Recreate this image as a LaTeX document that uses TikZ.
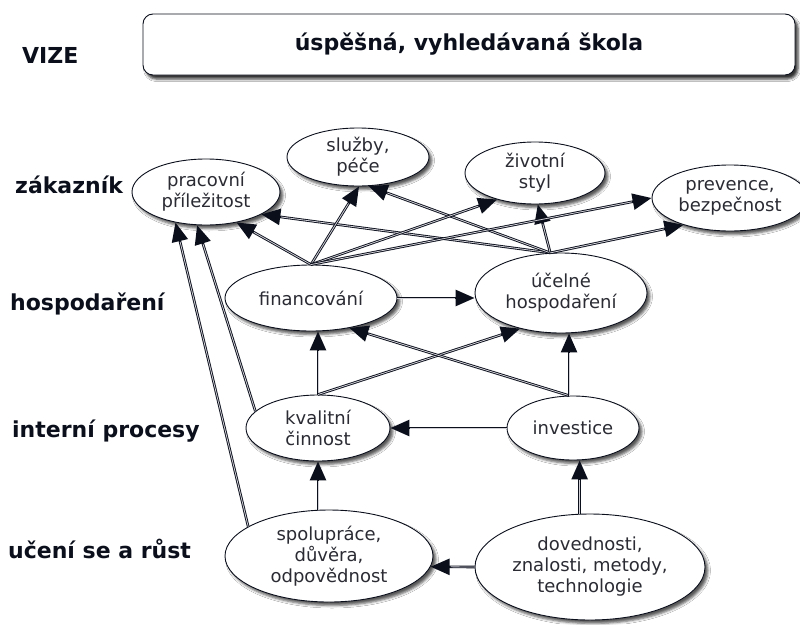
\documentclass[tikz,border=0pt]{standalone}
\usepackage{fontspec}
\setmainfont{DejaVu Sans}
\usetikzlibrary{shapes.geometric,arrows.meta,shadows.blur}
\definecolor{ink}{HTML}{0B0F1C}
\definecolor{txt}{HTML}{2A2B33}
\definecolor{core}{HTML}{D0D0D6}
\begin{document}
\begin{tikzpicture}[x=1pt,y=-1pt,
  goal/.style={ellipse, draw=ink, line width=0.9pt, fill=white, inner sep=0pt,
    align=center, text=txt, font=\fontsize{18}{21}\selectfont,
    blur shadow={shadow xshift=3pt, shadow yshift=-3.5pt,
      shadow blur radius=2.5pt, shadow opacity=65}},
  persp/.style={anchor=base west, inner sep=0pt, text=ink,
    font=\fontsize{22}{26}\selectfont\bfseries},
  link/.style={draw=ink, line width=2.6pt,
    -{Triangle[length=19pt,width=16pt]},
    postaction={draw=core, line width=0.8pt, -, shorten >=20pt}},
]
\fill[white] (0,0) rectangle (800,624);
\useasboundingbox (0,0) rectangle (800,624);

% vision
\node[draw=ink, line width=0.9pt, rounded corners=10pt, fill=white,
  minimum width=652pt, minimum height=61pt, inner sep=0pt, text=ink,
  font=\fontsize{22}{26}\selectfont\bfseries,
  blur shadow={shadow xshift=3pt, shadow yshift=-4pt,
    shadow blur radius=2.5pt, shadow opacity=80}]
  (vize) at (469,44.5) {úspěšná, vyhledávaná škola};

% perspectives
\node[persp] (lvize) at (22,63) {VIZE};
\node[persp] (lzak) at (15,193) {zákazník};
\node[persp] (lhosp) at (10,310) {hospodaření};
\node[persp] (lint) at (12,437) {interní procesy};
\node[persp] (luc) at (8,558) {učení se a růst};

% goals
\node[goal, minimum width=148pt, minimum height=66pt] (prac) at (206,192) {pracovní\\příležitost};
\node[goal, minimum width=142pt, minimum height=58pt] (sluz) at (358,157) {služby,\\péče};
\node[goal, minimum width=140pt, minimum height=62pt] (ziv) at (535,173) {životní\\styl};
\node[goal, minimum width=156pt, minimum height=66pt] (prev) at (730,198) {prevence,\\bezpečnost};
\node[goal, minimum width=172pt, minimum height=66pt] (fin) at (311,298) {financování};
\node[goal, minimum width=172pt, minimum height=80pt] (uc) at (561,293) {účelné\\hospodaření};
\node[goal, minimum width=144pt, minimum height=66pt] (kval) at (318,428) {kvalitní\\činnost};
\node[goal, minimum width=132pt, minimum height=64pt] (inv) at (573,428) {investice};
\node[goal, minimum width=208pt, minimum height=92pt] (spol) at (329,556) {spolupráce,\\důvěra,\\odpovědnost};
\node[goal, minimum width=230pt, minimum height=106pt] (dov) at (590,567) {dovednosti,\\znalosti, metody,\\technologie};

% links
\draw[link] (spol.160) -- (prac.225);
\draw[link] (kval.165) -- (prac.255);
\draw[link] (fin.north) -- (prac.315);
\draw[link] (uc.105) -- (prac.338);
\draw[link] (fin.north) -- (sluz.272);
\draw[link] (uc.105) -- (sluz.290);
\draw[link] (fin.north) -- (ziv.215);
\draw[link] (uc.105) -- (ziv.275);
\draw[link] (fin.north) -- (prev.west);
\draw[link] (uc.105) -- (prev.210);
\draw[link] (fin.east) -- (uc.west |- fin.east);
\draw[link] (kval.north) -- (kval.north |- fin.south);
\draw[link] (kval.north) -- (uc.221);
\draw[link] (inv.97) -- (fin.322);
\draw[link] (inv.97) -- (inv.97 |- uc.south);
\draw[link] (inv.west) -- (kval.east);
\draw[link] (kval.south |- spol.north) -- (kval.south);
\draw[link] (dov.101) -- (dov.101 |- inv.south);
\draw[link] (dov.west) -- (spol.354);
\end{tikzpicture}
\end{document}
